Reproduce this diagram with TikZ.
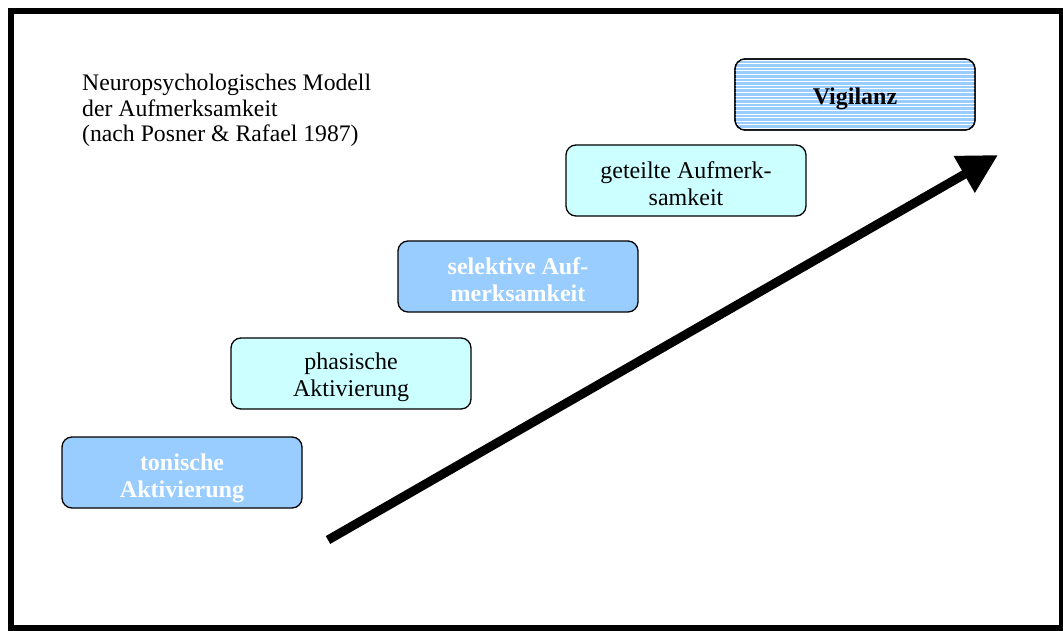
\documentclass[tikz,border=0pt]{standalone}
\usepackage{fontspec}
\setmainfont{Liberation Serif}
\usetikzlibrary{arrows.meta}
\definecolor{boxblue}{HTML}{99CCFF}
\definecolor{boxcyan}{HTML}{CCFFFF}
\begin{document}
\begin{tikzpicture}[x=1pt,y=-1pt,
  stage/.style={draw=black,line width=1.3pt,rounded corners=10pt,minimum width=240pt,minimum height=71pt,inner sep=0pt},
  stagetext/.style={inner sep=0pt,align=center,font=\fontsize{24}{27}\selectfont},
  darktext/.style={stagetext,text=white,font=\fontsize{24}{27}\selectfont\bfseries},
  lighttext/.style={stagetext,text=black}]
\useasboundingbox (0,0) rectangle (1063,631);
\draw[line width=6pt] (11,11) rectangle (1062,628);
\node[anchor=base west,align=left,inner sep=0pt,font=\fontsize{23.7}{25.5}\selectfont] (title) at (82,142)
  {Neuropsychologisches Modell\\der Aufmerksamkeit\\(nach Posner \& Rafael 1987)};
% boxes
\node[stage,fill=boxblue] (tonic) at (182,472.5) {};
\node[stage,fill=boxcyan] (phasic) at (351,373.5) {};
\node[stage,fill=boxblue] (sel) at (518,276.5) {};
\node[stage,fill=boxcyan] (div) at (686,180.5) {};
\node[stage,fill=boxblue] (vig) at (855,94.5) {};
\begin{scope}
  \clip[rounded corners=10pt] (vig.south west) rectangle (vig.north east);
  \foreach \yy in {60,63.6,...,132} \draw[white,line width=0.9pt] (735,\yy) -- (975,\yy);
\end{scope}
\node[stage] (vigframe) at (vig.center) {};
% texts
\node[darktext] (tonicT) at ([yshift=-6pt]tonic.center) {tonische\\Aktivierung};
\node[lighttext] (phasicT) at ([yshift=-3.5pt]phasic.center) {phasische\\Aktivierung};
\node[darktext] (selT) at ([yshift=-3pt]sel.center) {selektive Auf-\\merksamkeit};
\node[lighttext] (divT) at ([yshift=-3pt]div.center) {geteilte Aufmerk-\\samkeit};
\node[stagetext,font=\fontsize{24}{27}\selectfont\bfseries] (vigT) at ([yshift=-4.5pt]vig.center) {Vigilanz};
% arrow
\coordinate (as) at (328,540);
\coordinate (ae) at (998,155);
\draw[line width=9pt,-{Triangle[length=39pt,width=40pt]}] (as) -- (ae);
\end{tikzpicture}
\end{document}
